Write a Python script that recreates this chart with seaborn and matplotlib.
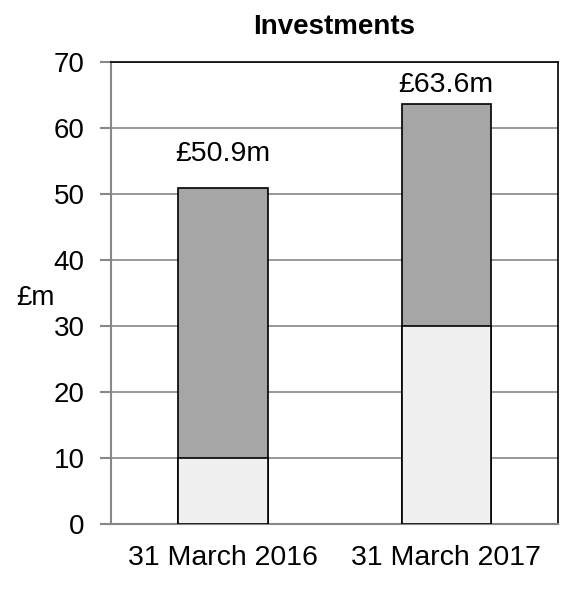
import pandas as pd
import matplotlib
matplotlib.use("Agg")
import matplotlib.pyplot as plt
import seaborn as sns

# data
dates = ["31 March 2016", "31 March 2017"]
lower = [10.0, 30.0]
totals = [50.9, 63.6]
total_labels = ["£50.9m", "£63.6m"]

df = pd.DataFrame({"date": dates, "lower": lower, "total": totals})

sns.set_style("white")
plt.rcParams["font.family"] = ["Liberation Sans", "DejaVu Sans"]
plt.rcParams["text.color"] = "black"
plt.rcParams["axes.labelcolor"] = "black"
plt.rcParams["xtick.labelcolor"] = "black"
plt.rcParams["ytick.labelcolor"] = "black"

fig = plt.figure(figsize=(5.61, 5.94), dpi=100)
ax = fig.add_axes([0.198, 0.1178, 0.7967, 0.7778])

# total bar first (dark), then the lower segment painted on top of it
sns.barplot(data=df, x="date", y="total", color="#A6A6A6", width=0.4,
            edgecolor="black", linewidth=1.2, saturation=1, ax=ax, zorder=3)
sns.barplot(data=df, x="date", y="lower", color="#F0F0F0", width=0.4,
            edgecolor="black", linewidth=1.2, saturation=1, ax=ax, zorder=4)

ax.set_xlim(-0.5, 1.5)
ax.set_ylim(0, 70)
ax.set_yticks(range(0, 71, 10))
ax.yaxis.grid(True, color="#888888", linewidth=1.2, zorder=0)
ax.set_axisbelow(True)

# labels above the bars
offsets = [5.1, 2.9]
for i, (t, lab) in enumerate(zip(totals, total_labels)):
    ax.text(i, t + offsets[i], lab, ha="center", va="center", fontsize=20.5, color="black")

for side in ["left", "bottom"]:
    ax.spines[side].set_color("#888888")
    ax.spines[side].set_linewidth(1.5)
for side in ["top", "right"]:
    ax.spines[side].set_color("black")
    ax.spines[side].set_linewidth(1.2)
    ax.spines[side].set_visible(True)

ax.set_xticks([-0.5, 0.5, 1.5], minor=True)
ax.tick_params(axis="x", which="major", length=0, labelsize=20.5, pad=15, labelcolor="black")
ax.tick_params(axis="x", which="minor", length=7, color="#888888", width=1.5, direction="out")
ax.tick_params(axis="y", length=8, color="#888888", width=1.5, labelsize=20, pad=11,
               left=True, labelcolor="black")

ax.set_xlabel("")
ax.set_ylabel("£m", fontsize=20, rotation=0, labelpad=0, va="center", color="black")
ax.yaxis.set_label_coords(-0.17, 0.49)
ax.set_title("Investments", fontsize=20, fontweight="bold", pad=20, color="black")

fig.savefig("out.png", dpi=100)
